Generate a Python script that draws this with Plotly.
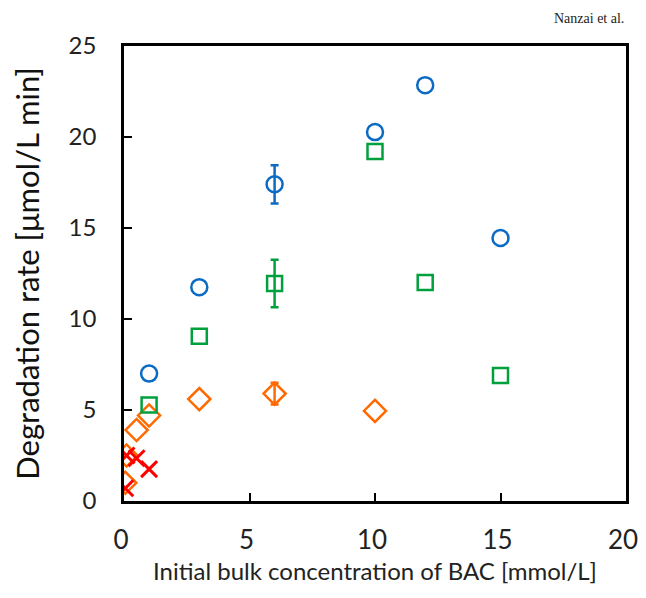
import plotly.graph_objects as go

# Blue circles
blue_x = [1, 3, 6, 10, 12, 15]
blue_y = [7.0, 11.75, 17.4, 20.27, 22.85, 14.45]

# Green squares
green_x = [1, 3, 6, 10, 12, 15]
green_y = [5.27, 9.05, 11.95, 19.2, 12.0, 6.9]

# Orange diamonds
orange_x = [0.05, 0.1, 0.5, 1, 3, 6, 10]
orange_y = [1.0, 2.5, 3.9, 4.7, 5.6, 5.9, 4.95]

# Red crosses
red_x = [0.05, 0.1, 0.5, 1.0]
red_y = [0.7, 2.5, 2.35, 1.75]

# Error bars (only at x = 6)
err_x = [6]
blue_err = [1.05]
green_err = [1.3]
orange_err = [0.6]

x_ticks = [0, 5, 10, 15, 20]
y_ticks = [0, 5, 10, 15, 20, 25]

BLUE = "#0B6BC4"
GREEN = "#00A03C"
ORANGE = "#FF6A00"
RED = "#FF0000"

fig = go.Figure()


def add(xs, ys, sym, col, size, lw=2.5):
    fig.add_trace(go.Scatter(
        x=xs, y=ys, mode="markers",
        marker=dict(symbol=sym, size=size, color=col,
                    line=dict(color=col, width=lw)),
        showlegend=False, hoverinfo="x+y"))


def add_err(xs, ys, errs, col):
    fig.add_trace(go.Scatter(
        x=xs, y=ys, mode="markers",
        marker=dict(size=0.1, color=col, opacity=0),
        error_y=dict(type="data", array=errs, visible=True, color=col,
                     thickness=2.5, width=4),
        showlegend=False, hoverinfo="skip"))


add(orange_x, orange_y, "diamond-open", ORANGE, 17)
add(red_x, red_y, "x-thin", RED, 16, 3)
add(green_x, green_y, "square-open", GREEN, 15)
add(blue_x, blue_y, "circle-open", BLUE, 16)
add_err(err_x, [orange_y[orange_x.index(6)]], orange_err, ORANGE)
add_err(err_x, [green_y[green_x.index(6)]], green_err, GREEN)
add_err(err_x, [blue_y[blue_x.index(6)]], blue_err, BLUE)

FONT = "Lato, Open Sans, sans-serif"

# page body adds an 8px offset; keep the page within the window (no scrollbars)
fig.update_layout(
    width=630, height=582,
    margin=dict(l=116, r=12, t=38, b=89),
    plot_bgcolor="white", paper_bgcolor="white",
    xaxis=dict(range=[0, 20], tickvals=x_ticks, showline=True, linecolor="black",
               linewidth=2.5, mirror=True, ticks="inside", ticklen=8, tickwidth=2,
               tickcolor="black", showgrid=False, zeroline=False, automargin=False,
               tickfont=dict(family=FONT, size=26, color="#222"),
               ticklabelstandoff=14, ticklabeloverflow="allow", ticklabelshift=-3,
               title=dict(text="Initial bulk concentration of BAC [mmol/L]",
                          font=dict(family=FONT, size=24, color="#222"),
                          standoff=10)),
    yaxis=dict(range=[0, 25], tickvals=y_ticks, showline=True, linecolor="black",
               linewidth=2.5, mirror=True, ticks="inside", ticklen=8, tickwidth=2,
               tickcolor="black", showgrid=False, zeroline=False, automargin=False,
               tickfont=dict(family=FONT, size=24, color="#222"),
               ticklabelstandoff=20, ticklabeloverflow="allow",
               title=dict(text="Degradation rate [μmol/L min]",
                          font=dict(family=FONT, size=31, color="#111"),
                          standoff=28)),
    annotations=[dict(text="Nanzai et al.", xref="paper", yref="paper",
                      x=1.0, y=1.0, yshift=28, xanchor="right", yanchor="middle",
                      showarrow=False,
                      font=dict(family="Liberation Serif, Times New Roman, serif",
                                size=14, color="#222"))],
)

fig.write_html("out.html")
